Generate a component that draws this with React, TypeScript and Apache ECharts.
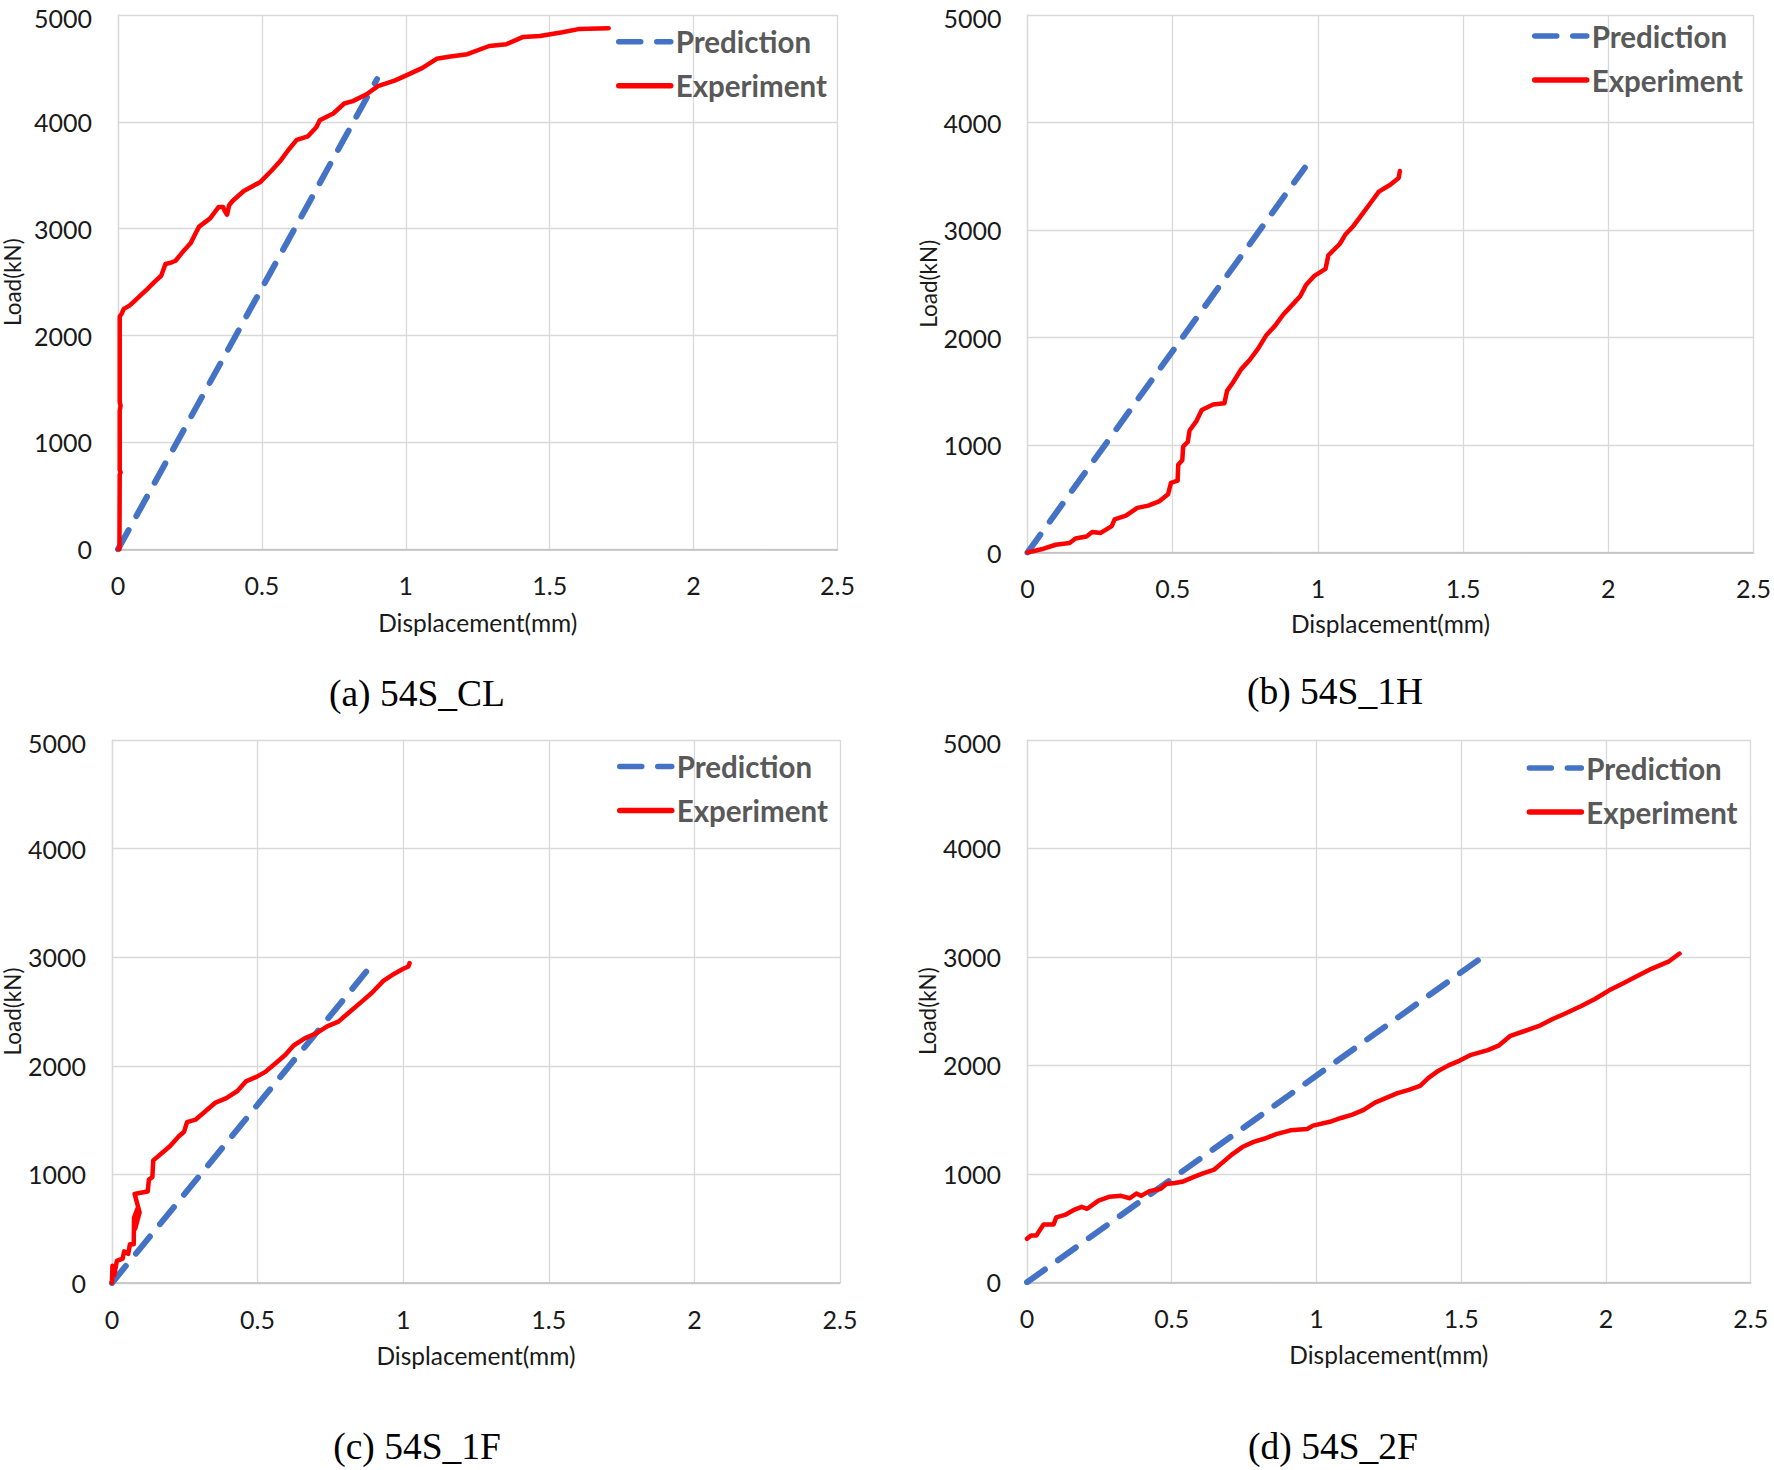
import React, { useEffect, useRef } from "react";
import * as echarts from "echarts";

// x-axis (Displacement, mm) and y-axis (Load, kN) ticks
const xTicks = [0, 0.5, 1, 1.5, 2, 2.5];
const yTicks = [0, 1000, 2000, 3000, 4000, 5000];
const seriesNames = ["Prediction", "Experiment"];
const captions = ["(a) 54S_CL", "(b) 54S_1H", "(c) 54S_1F", "(d) 54S_2F"];

// (a) 54S_CL
const predA = [[0, 0], [0.9, 4400]];
const expA = [
  [0, 0], [0.005, 0], [0.006, 700], [0.009, 720], [0.006, 740], [0.006, 1300], [0.009, 1340], [0.006, 1380],
  [0.006, 2180], [0.012, 2200], [0.02, 2250], [0.04, 2280], [0.06, 2330], [0.08, 2380], [0.1, 2430],
  [0.126, 2500], [0.15, 2560], [0.165, 2670], [0.184, 2683], [0.2, 2700], [0.223, 2777], [0.252, 2863],
  [0.272, 2969], [0.282, 3020], [0.32, 3097], [0.35, 3204], [0.365, 3204], [0.372, 3160], [0.379, 3131],
  [0.386, 3220], [0.398, 3259], [0.437, 3353], [0.495, 3438], [0.534, 3545], [0.563, 3631], [0.592, 3737],
  [0.621, 3831], [0.66, 3865], [0.689, 3950], [0.701, 4014], [0.748, 4078], [0.786, 4172], [0.816, 4194],
  [0.864, 4258], [0.903, 4334], [0.961, 4386], [1.0, 4433], [1.058, 4505], [1.107, 4590], [1.155, 4612],
  [1.214, 4633], [1.29, 4710], [1.35, 4727], [1.408, 4795], [1.466, 4804], [1.544, 4838], [1.6, 4868],
  [1.705, 4876],
];

// (b) 54S_1H
const predB = [[0, 0], [0.955, 3580]];
const expB = [
  [0, 0], [0.048, 30], [0.097, 72], [0.145, 89], [0.165, 131], [0.203, 148], [0.223, 190], [0.252, 182],
  [0.29, 246], [0.3, 309], [0.339, 343], [0.378, 415], [0.416, 436], [0.455, 478], [0.484, 542], [0.494, 648],
  [0.517, 669], [0.519, 817], [0.533, 859], [0.536, 986], [0.552, 1029], [0.558, 1135], [0.581, 1219],
  [0.6, 1325], [0.639, 1376], [0.678, 1389], [0.687, 1503], [0.707, 1579], [0.736, 1706], [0.765, 1791],
  [0.794, 1897], [0.823, 2024], [0.852, 2108], [0.881, 2214], [0.91, 2299], [0.939, 2384], [0.959, 2489],
  [0.988, 2574], [1.026, 2638], [1.036, 2765], [1.075, 2870], [1.094, 2955], [1.123, 3040], [1.152, 3146],
  [1.181, 3251], [1.21, 3357], [1.249, 3421], [1.278, 3484], [1.282, 3548],
];

// (c) 54S_1F
const predC = [[0, 0], [0.908, 2980]];
const expC = [
  [0, 0], [0.002, 159], [0.008, 70], [0.017, 203], [0.037, 225], [0.042, 291], [0.056, 269], [0.062, 357],
  [0.075, 357], [0.076, 600], [0.09, 700], [0.08, 500], [0.095, 650], [0.078, 820], [0.094, 829],
  [0.123, 842], [0.127, 952], [0.139, 974], [0.142, 1129], [0.171, 1195], [0.2, 1261], [0.229, 1349],
  [0.248, 1393], [0.258, 1482], [0.287, 1504], [0.316, 1570], [0.354, 1658], [0.393, 1702], [0.431, 1768],
  [0.46, 1856], [0.498, 1900], [0.527, 1944], [0.566, 2033], [0.595, 2099], [0.624, 2187], [0.662, 2253],
  [0.7, 2297], [0.739, 2363], [0.778, 2407], [0.816, 2496], [0.855, 2584], [0.893, 2672], [0.932, 2782],
  [0.97, 2848], [0.999, 2892], [1.018, 2915], [1.022, 2945],
];

// (d) 54S_2F
const predD = [[0, 0], [1.59, 3030]];
const expD = [
  [0, 401], [0.014, 432], [0.033, 432], [0.043, 476], [0.057, 533], [0.092, 533], [0.101, 599], [0.131, 621],
  [0.16, 665], [0.189, 696], [0.208, 678], [0.247, 753], [0.286, 789], [0.325, 797], [0.355, 775],
  [0.378, 819], [0.394, 797], [0.423, 841], [0.462, 863], [0.481, 907], [0.511, 916], [0.54, 930],
  [0.579, 974], [0.608, 1004], [0.647, 1040], [0.676, 1106], [0.705, 1172], [0.744, 1247], [0.783, 1295],
  [0.822, 1326], [0.861, 1366], [0.91, 1401], [0.968, 1414], [0.988, 1445], [1.046, 1480], [1.085, 1515],
  [1.124, 1546], [1.163, 1590], [1.202, 1656], [1.241, 1700], [1.28, 1744], [1.319, 1775], [1.358, 1811],
  [1.387, 1885], [1.417, 1943], [1.456, 2000], [1.495, 2044], [1.534, 2097], [1.592, 2141], [1.631, 2185],
  [1.67, 2273], [1.719, 2317], [1.767, 2361], [1.816, 2427], [1.865, 2485], [1.913, 2546], [1.962, 2612],
  [2.011, 2692], [2.06, 2758], [2.108, 2824], [2.157, 2890], [2.216, 2956], [2.254, 3031],
];

const predictions = [predA, predB, predC, predD];
const experiments = [expA, expB, expC, expD];

// layout (pixels)
const grids = [
  { left: 116, top: 10.7, width: 721.5, height: 538.6 },
  { left: 1027.5, top: 10, width: 728.5, height: 542.5 },
  { left: 110, top: 740, width: 730, height: 543 },
  { left: 1027, top: 740, width: 723.7, height: 542.3 },
];
const yNameGaps = [94, 87, 87, 87];
const xNameGaps = [61, 58, 60, 60];
const legendPos = [
  { left: 616, top: 26.7 },
  { left: 1532, top: 21 },
  { left: 617, top: 751.5 },
  { left: 1526.6, top: 753 },
];
const captionPos = [
  { x: 417, y: 693 },
  { x: 1335, y: 691.5 },
  { x: 417, y: 1446 },
  { x: 1333, y: 1446 },
];

const FONT = "Lato";
const BLUE = "#4472C4";
const RED = "#FF0000";
const TICK_COLOR = "#1a1a1a";

function App() {
  const ref = useRef<HTMLDivElement>(null);
  useEffect(() => {
    if (!ref.current) return;
    const chart = echarts.init(ref.current, null, { renderer: "svg" });
    const yMax = yTicks[yTicks.length - 1];
    const option: any = {
      animation: false,
      backgroundColor: "#ffffff",
      grid: grids.map((g) => ({ ...g, containLabel: false })),
      xAxis: grids.map((_, i) => ({
        type: "value",
        gridIndex: i,
        min: xTicks[0],
        max: xTicks[xTicks.length - 1],
        interval: 0.5,
        name: "Displacement(mm)",
        nameLocation: "middle",
        nameGap: xNameGaps[i],
        nameTextStyle: { fontFamily: FONT, fontSize: 24.5, color: TICK_COLOR },
        axisLine: { show: true, lineStyle: { color: "#bfbfbf", width: 1.5 } },
        axisTick: { show: false },
        axisLabel: {
          fontFamily: FONT,
          fontSize: 25,
          color: TICK_COLOR,
          margin: 23,
          formatter: (v: number) => String(v),
        },
        splitLine: { show: true, lineStyle: { color: "#d9d9d9", width: 1.3 } },
      })),
      yAxis: grids.map((_, i) => ({
        type: "value",
        gridIndex: i,
        min: yTicks[0],
        max: yMax,
        interval: 1000,
        name: "Load(kN)",
        nameLocation: "middle",
        nameGap: yNameGaps[i],
        nameTextStyle: { fontFamily: FONT, fontSize: 22.5, color: TICK_COLOR },
        axisLine: { show: true, lineStyle: { color: "#d9d9d9", width: 1.3 } },
        axisTick: { show: false },
        axisLabel: {
          fontFamily: FONT,
          fontSize: 25,
          lineHeight: 22,
          color: TICK_COLOR,
          margin: 26,
          formatter: (v: number) => (v === yMax ? `{t|${v}}` : String(v)),
          rich: {
            t: {
              fontFamily: FONT,
              fontSize: 25,
              lineHeight: 22,
              color: TICK_COLOR,
              padding: [5, 0, 0, 0],
            },
          },
        },
        splitLine: { show: true, lineStyle: { color: "#d9d9d9", width: 1.3 } },
      })),
      legend: legendPos.map((p) => ({
        orient: "vertical",
        left: p.left,
        top: p.top,
        padding: 0,
        itemWidth: 52,
        itemHeight: 14,
        itemGap: 14,
        data: seriesNames,
        lineStyle: { width: 5.5 },
        itemStyle: { opacity: 0, borderWidth: 0 },
        textStyle: {
          fontFamily: FONT,
          fontWeight: "bold",
          fontSize: 29.5,
          color: "#595959",
          lineHeight: 30,
          padding: 0,
        },
      })),
      series: grids.flatMap((_, i) => [
        {
          name: seriesNames[0],
          type: "line",
          xAxisIndex: i,
          yAxisIndex: i,
          data: predictions[i],
          symbol: "none",
          lineStyle: { color: BLUE, width: 6, type: [22, 16], cap: "round" },
          itemStyle: { color: BLUE },
          z: 3,
        },
        {
          name: seriesNames[1],
          type: "line",
          xAxisIndex: i,
          yAxisIndex: i,
          data: experiments[i],
          symbol: "none",
          lineStyle: { color: RED, width: 4.5, cap: "round", join: "round" },
          itemStyle: { color: RED },
          z: 4,
        },
      ]),
      graphic: captions.map((c, i) => ({
        type: "text",
        x: captionPos[i].x,
        y: captionPos[i].y,
        style: {
          text: c,
          fontFamily: "Liberation Serif",
          fontSize: 37.5,
          fill: "#000000",
          textAlign: "center",
          textVerticalAlign: "middle",
        },
      })),
    };
    chart.setOption(option);
    return () => chart.dispose();
  }, []);
  return (
    <div
      ref={ref}
      style={{ position: "absolute", left: 0, top: 0, width: 1774, height: 1470 }}
    />
  );
}

export default App;
